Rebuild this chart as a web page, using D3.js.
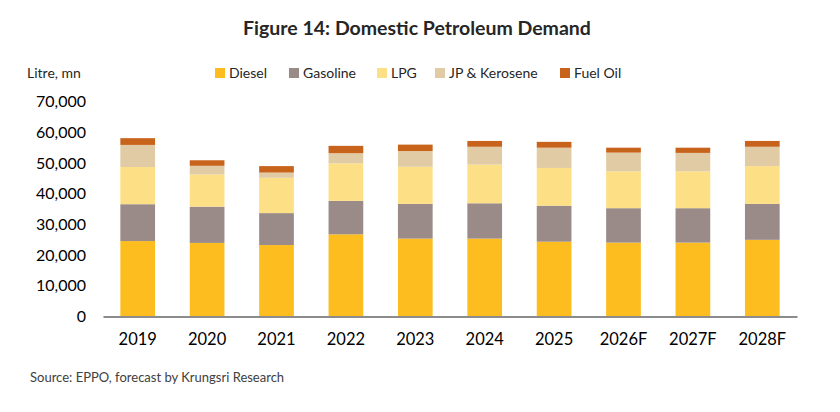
<!DOCTYPE html>
<html><head><meta charset="utf-8">
<script src="https://cdn.jsdelivr.net/npm/d3@7/dist/d3.min.js"></script>
<style>body{margin:0;background:#fff}svg{display:block}</style>
</head><body><svg id="c" width="840" height="412"></svg>
<script>
const categories = ["2019","2020","2021","2022","2023","2024","2025","2026F","2027F","2028F"];
const seriesNames = ["Diesel","Gasoline","LPG","JP & Kerosene","Fuel Oil"];
const diesel   = [24400,23800,23100,26600,25200,25200,24200,23900,23900,24800];
const gasoline = [12000,11800,10400,10900,11300,11500,11700,11200,11200,11700];
const lpg      = [12100,10500,11500,12200,12100,12600,12300,12000,12000,12300];
const jpKero   = [7200,2800,1700,3300,5100,5800,6600,6100,6000,6300];
const fuelOil  = [2200,1800,2100,2400,2100,1900,1900,1600,1700,1900];
const yTicks = [0,10000,20000,30000,40000,50000,60000,70000];
const colors = ["#FDBD1E","#9A8B88","#FDDF85","#E1CBA4","#C8631C"];

const font = "Lato, 'Open Sans', sans-serif";
const svg = d3.select("#c");
const rows = categories.map((c,i)=>({cat:c,"Diesel":diesel[i],"Gasoline":gasoline[i],"LPG":lpg[i],"JP & Kerosene":jpKero[i],"Fuel Oil":fuelOil[i]}));
const stack = d3.stack().keys(seriesNames)(rows);

const x = d3.scaleBand().domain(categories).range([103,797]).paddingInner(0.5).paddingOuter(0.25);
const y = d3.scaleLinear().domain([0,70000]).range([316,101]);

svg.append("text").attr("x",417).attr("y",35).attr("text-anchor","middle")
  .attr("font-family",font).attr("font-weight","bold").attr("font-size",19.5).attr("fill","#262626")
  .text("Figure 14: Domestic Petroleum Demand");

svg.append("text").attr("x",27).attr("y",78).attr("font-family",font).attr("font-size",14).attr("fill","#262626").text("Litre, mn");

// legend
const legX = [215,289,377,435,560];
const leg = svg.append("g");
seriesNames.forEach((n,i)=>{
  leg.append("rect").attr("x",legX[i]).attr("y",68).attr("width",10).attr("height",10).attr("fill",colors[i]);
  leg.append("text").attr("x",legX[i]+14).attr("y",78).attr("font-family",font).attr("font-size",14).attr("fill","#262626").text(n);
});

// y axis
const yAxis = d3.axisLeft(y).tickValues(yTicks).tickSize(0).tickPadding(0).tickFormat(d3.format(","));
const gy = svg.append("g").attr("transform","translate(86,0)").call(yAxis);
gy.select(".domain").remove();
gy.selectAll("text").attr("font-family",font).attr("font-size",16).attr("fill","#000").attr("dy","0.35em");

// bars
svg.append("g").selectAll("g").data(stack).join("g").attr("fill",(d,i)=>colors[i])
  .selectAll("rect").data(d=>d).join("rect")
  .attr("x",d=>x(d.data.cat)).attr("width",x.bandwidth())
  .attr("y",d=>y(d[1])).attr("height",d=>y(d[0])-y(d[1]));

// x axis
const xAxis = d3.axisBottom(x).tickSize(0).tickPadding(17);
const gx = svg.append("g").attr("transform","translate(0,316.5)").call(xAxis);
gx.select(".domain").attr("stroke","#8c8c8c").attr("stroke-width",2);
gx.selectAll("text").attr("font-family",font).attr("font-size",16.5).attr("fill","#000");

svg.append("text").attr("x",30).attr("y",382).attr("font-family",font).attr("font-size",13).attr("fill","#404040")
  .text("Source: EPPO, forecast by Krungsri Research");
</script></body></html>
